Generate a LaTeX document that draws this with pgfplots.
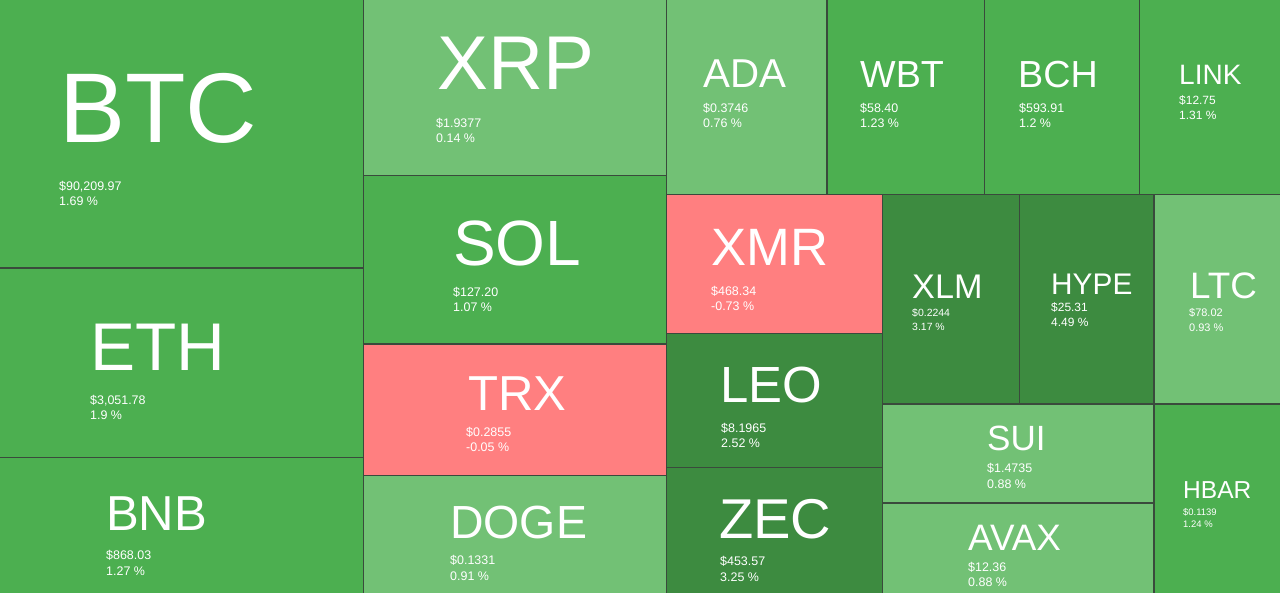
\documentclass[border=0pt]{standalone}
\usepackage{pgfplots}
\pgfplotsset{compat=1.18}
\usepackage{fontspec}
\setmainfont{Liberation Sans}
\definecolor{gmed}{HTML}{4CAF50}
\definecolor{glight}{HTML}{72C175}
\definecolor{gdark}{HTML}{3D8B40}
\definecolor{red1}{HTML}{FF7F80}
\definecolor{bord}{HTML}{3A4A3C}
\newcommand{\tile}[5]{\addplot[fill=#5, draw=bord, line width=1.3bp] coordinates {(#1,#2) (#3,#2) (#3,#4) (#1,#4)} --cycle;}
% big label: x, baseline y, size, text
\newcommand{\tlab}[4]{\node[anchor=base west, inner sep=0pt, text=white, font=\fontsize{\fpeval{0.88*#3}}{\fpeval{0.88*#3}}\selectfont] at (axis cs:#1,#2) {#4};}
% small line: x, baseline y, size, text
\newcommand{\sm}[4]{\node[anchor=base west, inner sep=0pt, text=white, font=\fontsize{#3}{#3}\selectfont] at (axis cs:#1,#2) {#4};}
\begin{document}
\begin{tikzpicture}
\begin{axis}[width=1280bp, height=593bp, scale only axis, hide axis,
  xmin=0, xmax=1280, ymin=0, ymax=593, y dir=reverse, clip=true]
\tile{-2}{-2}{363.5}{268}{gmed}        % BTC
\tile{-2}{268}{363.5}{457.7}{gmed}    % ETH
\tile{-2}{457.7}{363.5}{595}{gmed}    % BNB
\tile{363.5}{-2}{666.3}{175.7}{glight}   % XRP
\tile{363.5}{175.7}{666.3}{344}{gmed}   % SOL
\tile{363.5}{344}{666.3}{475.5}{red1}   % TRX
\tile{363.5}{475.5}{666.3}{595}{glight} % DOGE
\tile{666.3}{-2}{827}{194.3}{glight}   % ADA
\tile{827}{-2}{984.5}{194.3}{gmed}     % WBT
\tile{984.5}{-2}{1139.7}{194.3}{gmed}  % BCH
\tile{1139.7}{-2}{1282}{194.3}{gmed}   % LINK
\tile{666.3}{194.3}{882.3}{333.3}{red1}  % XMR
\tile{666.3}{333.3}{882.3}{467.7}{gdark} % LEO
\tile{666.3}{467.7}{882.3}{595}{gdark}   % ZEC
\tile{882.3}{194.3}{1019.3}{404}{gdark}  % XLM
\tile{1019.3}{194.3}{1154}{404}{gdark}   % HYPE
\tile{1154}{194.3}{1282}{404}{glight}    % LTC
\tile{882.3}{404}{1154}{503}{glight}     % SUI
\tile{882.3}{503}{1154}{595}{glight}     % AVAX
\tile{1154}{404}{1282}{595}{gmed}        % HBAR
\end{axis}
\begin{axis}[width=1280bp, height=593bp, scale only axis, hide axis,
  xmin=0, xmax=1280, ymin=0, ymax=593, y dir=reverse, clip=false]
\addplot[draw=none] coordinates {(0,0)};
\tlab{59}{143}{113}{BTC}
\sm{59}{190.5}{12.5}{\$90,209.97}
\sm{59}{205.5}{12.5}{1.69 \%}
\tlab{90}{370}{77}{ETH}
\sm{90}{404.5}{12.5}{\$3,051.78}
\sm{90}{419.5}{12.5}{1.9 \%}
\tlab{106}{530}{56}{BNB}
\sm{106}{559.5}{12.5}{\$868.03}
\sm{106}{575.5}{12.5}{1.27 \%}
\tlab{437}{90}{87}{XRP}
\sm{436}{127.5}{12.5}{\$1.9377}
\sm{436}{142.5}{12.5}{0.14 \%}
\tlab{453}{265}{73}{SOL}
\sm{453}{296.5}{12.5}{\$127.20}
\sm{453}{311.5}{12.5}{1.07 \%}
\tlab{468}{410}{56}{TRX}
\sm{466}{436.5}{12.5}{\$0.2855}
\sm{466}{451.5}{12.5}{-0.05 \%}
\tlab{450}{538}{53}{DOGE}
\sm{450}{564.5}{12.5}{\$0.1331}
\sm{450}{580.5}{12.5}{0.91 \%}
\tlab{703}{88}{46}{ADA}
\sm{703}{112.5}{12.5}{\$0.3746}
\sm{703}{127.5}{12.5}{0.76 \%}
\tlab{860}{88}{43}{WBT}
\sm{860}{112.5}{12.5}{\$58.40}
\sm{860}{127.5}{12.5}{1.23 \%}
\tlab{1018}{88}{43}{BCH}
\sm{1019}{112.5}{12.5}{\$593.91}
\sm{1019}{127.5}{12.5}{1.2 \%}
\tlab{1179}{85}{32}{LINK}
\sm{1179}{104.5}{12}{\$12.75}
\sm{1179}{119.5}{12}{1.31 \%}
\tlab{711}{265}{60}{XMR}
\sm{711}{295.5}{12.5}{\$468.34}
\sm{711}{310.5}{12.5}{-0.73 \%}
\tlab{720}{402}{58}{LEO}
\sm{721}{432.5}{12.5}{\$8.1965}
\sm{721}{447.5}{12.5}{2.52 \%}
\tlab{719}{538}{64}{ZEC}
\sm{720}{565.5}{12.5}{\$453.57}
\sm{720}{581.5}{12.5}{3.25 \%}
\tlab{912}{298}{39}{XLM}
\sm{912}{316.5}{10.5}{\$0.2244}
\sm{912}{330.5}{10.5}{3.17 \%}
\tlab{1051}{294}{34}{HYPE}
\sm{1051}{311.5}{12}{\$25.31}
\sm{1051}{326.5}{12}{4.49 \%}
\tlab{1190}{298}{42}{LTC}
\sm{1189}{316.5}{11}{\$78.02}
\sm{1189}{331}{11}{0.93 \%}
\tlab{987}{450}{40}{SUI}
\sm{987}{472.5}{12.5}{\$1.4735}
\sm{987}{488.5}{12.5}{0.88 \%}
\tlab{968}{550}{42}{AVAX}
\sm{968}{571.5}{12.5}{\$12.36}
\sm{968}{586.5}{12.5}{0.88 \%}
\tlab{1183}{498}{28}{HBAR}
\sm{1183}{515.5}{9.5}{\$0.1139}
\sm{1183}{527.5}{9.5}{1.24 \%}
\end{axis}
\end{tikzpicture}
\end{document}
